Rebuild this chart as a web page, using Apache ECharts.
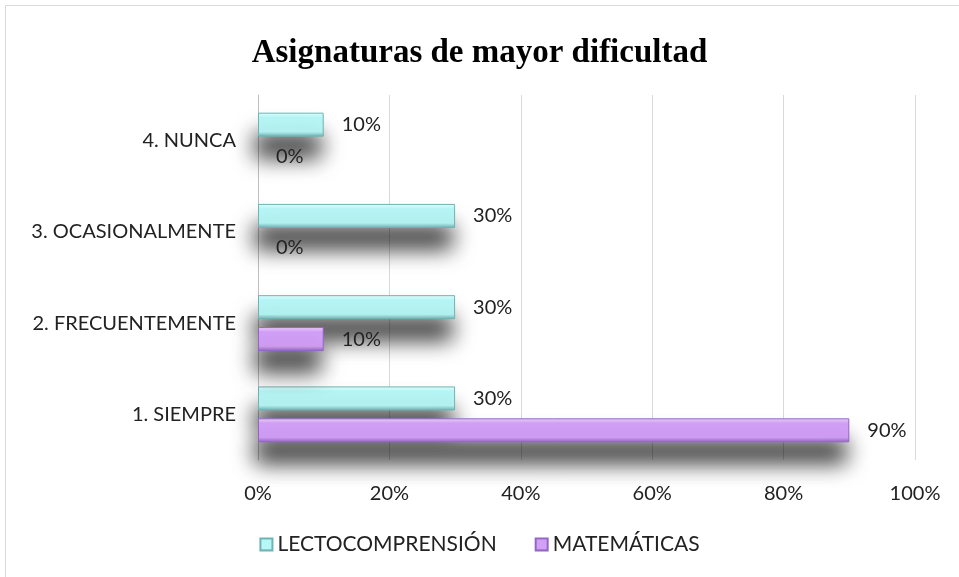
<!DOCTYPE html>
<html>
<head>
<meta charset="utf-8">
<script src="https://cdn.jsdelivr.net/npm/echarts@6/dist/echarts.min.js"></script>
<style>
  html, body { margin: 0; padding: 0; background: #fff; }
  #main { width: 959px; height: 577px; }
</style>
</head>
<body>
<div id="main"></div>
<script>
// datos (porcentajes)
var categorias = ['1. SIEMPRE', '2. FRECUENTEMENTE', '3. OCASIONALMENTE', '4. NUNCA']
var lectocomprension = [30, 30, 30, 10]
var matematicas = [90, 10, 0, 0]
var serieNombres = ['LECTOCOMPRENSIÓN', 'MATEMÁTICAS']

var myChart = echarts.init(document.getElementById('main'))

function estiloBarra (claro, oscuro, borde) {
  return {
    color: new echarts.graphic.LinearGradient(0, 0, 0, 1, [
      { offset: 0, color: claro },
      { offset: 0.2, color: oscuro },
      { offset: 0.8, color: oscuro },
      { offset: 1, color: borde }
    ]),
    borderColor: borde,
    borderWidth: 1,
    shadowColor: 'rgba(0, 0, 0, 0.8)',
    shadowBlur: 22,
    shadowOffsetY: 21,
    shadowOffsetX: -3
  }
}

// las barras en cero no muestran borde
function sinCeros (valores) {
  return valores.map(function (v) {
    return v === 0 ? { value: v, itemStyle: { borderWidth: 0 } } : v
  })
}

var etiqueta = {
  show: true,
  position: 'right',
  distance: 18,
  formatter: '{c}%',
  fontFamily: 'Lato',
  fontSize: 20,
  color: '#222'
}

var option = {
  animation: false,
  title: {
    text: 'Asignaturas de mayor dificultad',
    left: 'center',
    top: 32,
    textStyle: {
      fontFamily: 'Liberation Serif',
      fontWeight: 'bold',
      fontSize: 33,
      color: '#000'
    }
  },
  graphic: [{
    type: 'rect',
    shape: { x: 5.5, y: 5.5, width: 970, height: 600 },
    style: { fill: 'none', stroke: '#d9d9d9', lineWidth: 1 },
    silent: true
  }],
  legend: {
    bottom: 17,
    left: 'center',
    itemWidth: 12,
    itemHeight: 12,
    itemGap: 38,
    icon: 'rect',
    textStyle: { fontFamily: 'Lato', fontSize: 21, color: '#222' },
    data: serieNombres
  },
  grid: {
    left: 258,
    right: 44,
    top: 95,
    bottom: 117
  },
  xAxis: {
    type: 'value',
    min: 0,
    max: 100,
    interval: 20,
    axisLine: { show: false },
    axisTick: { show: false },
    axisLabel: {
      formatter: '{value}%',
      margin: 24,
      fontFamily: 'Lato',
      fontSize: 20,
      color: '#222'
    },
    splitLine: { lineStyle: { color: '#d9d9d9', width: 1 } }
  },
  yAxis: {
    type: 'category',
    data: categorias,
    axisLine: { lineStyle: { color: '#bfbfbf' } },
    axisTick: { show: false },
    axisLabel: {
      margin: 22,
      fontFamily: 'Lato',
      fontSize: 20,
      color: '#222'
    }
  },
  series: [
    {
      name: serieNombres[0],
      type: 'bar',
      data: sinCeros(lectocomprension),
      barWidth: 24,
      barGap: '33%',
      itemStyle: estiloBarra('#e2ffff', '#b8f7f7', '#6fb3b3'),
      label: etiqueta
    },
    {
      name: serieNombres[1],
      type: 'bar',
      data: sinCeros(matematicas),
      barWidth: 24,
      barGap: '33%',
      itemStyle: estiloBarra('#ecd2ff', '#d3a0f8', '#9466c4'),
      label: etiqueta
    }
  ]
}

myChart.setOption(option)
</script>
</body>
</html>
